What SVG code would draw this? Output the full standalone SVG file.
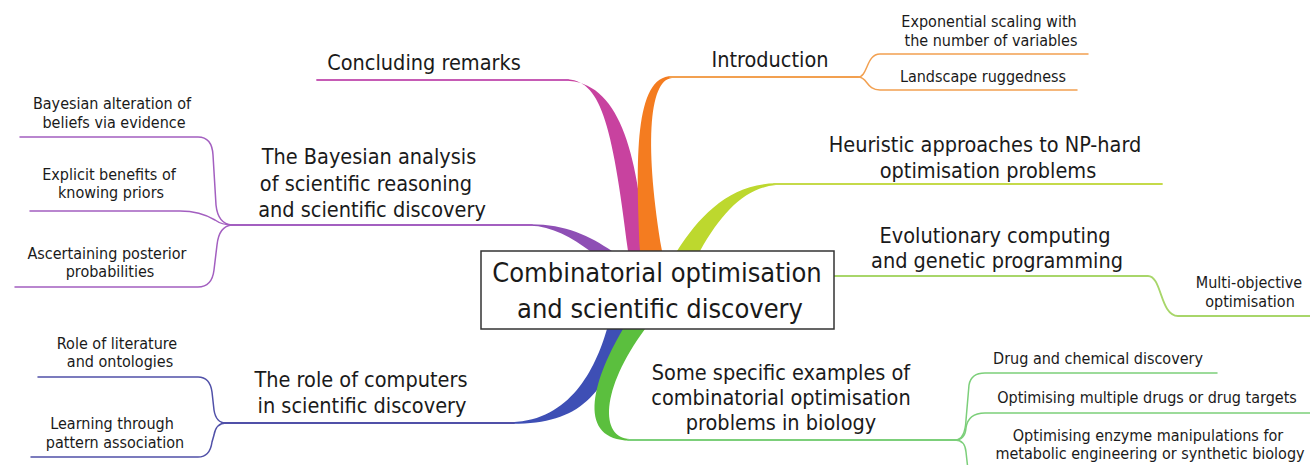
<svg xmlns="http://www.w3.org/2000/svg" width="1310" height="465" viewBox="0 0 1310 465">
  <style>
    text { font-family: "DejaVu Sans Condensed", "DejaVu Sans", sans-serif; font-stretch: semi-condensed; fill: #1a1a1a; text-anchor: middle; }
    .center { font-size: 27px; }
    .main { font-size: 21.5px; }
    .sub { font-size: 16px; }
    .box { fill: #ffffff; stroke: #333333; stroke-width: 1.5; }
    .ln { fill: none; stroke-width: 1.8; stroke-linecap: round; }
    .sl { fill: none; stroke-width: 1.5; stroke-linecap: round; }
    .magenta { stroke: #c65bb5; }
    .orange { stroke: #f2a050; }
    .lime { stroke: #c5da4a; }
    .evo { stroke: #a8d66a; }
    .green { stroke: #7ccf7a; }
    .purple { stroke: #a35fc0; }
    .blue { stroke: #5050a8; }
  </style>

  <rect width="1310" height="465" fill="#ffffff"/>

  <g id="connectors">
    <!-- tapered ribbons leaving the central box -->
    <path id="rib-purple" fill="#8e4fb5" d="M530,224.2 C565,224 590,236 612,251 L590,251 C572,238 552,226 530,225.8 Z"/>
    <path id="rib-magenta" fill="#c8429f" d="M565,79.2 C600,79.2 612,120 628,251 L645,251 C638,150 618,81 565,80.8 Z"/>
    <path id="rib-orange" fill="#f47c20" d="M640,251 C636,160 634,76 672,76 L672,78 C648,80 645,150 662,251 Z"/>
    <path id="rib-lime" fill="#bdd82e" d="M677,251 C700,215 730,184 776,183.3 L776,185 C745,188 722,212 700,251 Z"/>
    <path id="rib-blue" fill="#3e4fb5" d="M607,329 C595,370 570,420 512,422.2 L512,423.8 C580,424 605,395 626,329 Z"/>
    <path id="rib-green" fill="#5bbf3e" d="M623,329 C590,385 578,440 630,440.6 L630,439 C600,438 600,390 645,329 Z"/>

    <!-- main branch lines -->
    <path class="ln magenta" d="M317,80 L568,80"/>
    <path class="ln orange" d="M670,77 L858,77"/>
    <path class="ln lime" d="M774,184 L1162,184"/>
    <path class="ln evo" d="M834,276 L1148,276 C1162,276 1160,316 1178,316 L1310,316"/>
    <path class="ln purple" d="M232,225 L532,225"/>
    <path class="ln blue" d="M222,423 L514,423"/>
    <path class="ln green" d="M628,440 L955,440"/>

    <!-- Introduction sub-branches -->
    <path class="sl orange" d="M858,77 C868,77 866,54 880,54 L1088,54"/>
    <path class="sl orange" d="M858,77 C868,77 866,90 880,90 L1077,90"/>

    <!-- Bayesian sub-branches -->
    <path class="sl purple" d="M20,137 L198,137 Q212,137 213,155 L216,205 Q218,224 232,225"/>
    <path class="sl purple" d="M30,211 L180,211 Q200,211 215,220 Q222,225 232,225"/>
    <path class="sl purple" d="M15,287 L198,287 Q212,287 214,270 L217,245 Q219,226 232,225"/>

    <!-- computers sub-branches -->
    <path class="sl blue" d="M38,377 L198,377 Q210,377 212,392 L214,410 Q216,423 226,423"/>
    <path class="sl blue" d="M31,457 L198,457 Q210,457 212,442 L214,435 Q216,423 226,423"/>

    <!-- biology examples sub-branches -->
    <path class="sl green" d="M955,440 Q965,440 966,420 L969,385 Q971,373 985,373 L1217,373"/>
    <path class="sl green" d="M955,440 Q965,440 966,428 Q968,413 985,413 L1310,413"/>
    <path class="sl green" d="M955,440 Q965,440 966,452 L968,470"/>
  </g>

  <g id="node-center">
    <rect class="box" x="481" y="251" width="353" height="78"/>
    <text class="center" x="657" y="282">Combinatorial optimisation</text>
    <text class="center" x="660" y="318">and scientific discovery</text>
  </g>

  <g id="node-introduction">
    <text class="main" x="770" y="67">Introduction</text>
  </g>
  <g id="node-exponential">
    <text class="sub" x="989" y="27">Exponential scaling with</text>
    <text class="sub" x="991" y="46">the number of variables</text>
  </g>
  <g id="node-landscape">
    <text class="sub" x="983" y="82">Landscape ruggedness</text>
  </g>

  <g id="node-concluding">
    <text class="main" x="424" y="70">Concluding remarks</text>
  </g>

  <g id="node-heuristic">
    <text class="main" x="985" y="152">Heuristic approaches to NP-hard</text>
    <text class="main" x="988" y="178">optimisation problems</text>
  </g>

  <g id="node-evolutionary">
    <text class="main" x="995" y="243">Evolutionary computing</text>
    <text class="main" x="997" y="268">and genetic programming</text>
  </g>
  <g id="node-multiobjective">
    <text class="sub" x="1249" y="288">Multi-objective</text>
    <text class="sub" x="1250" y="307">optimisation</text>
  </g>

  <g id="node-biology">
    <text class="main" x="781" y="380">Some specific examples of</text>
    <text class="main" x="781" y="405">combinatorial optimisation</text>
    <text class="main" x="781" y="430">problems in biology</text>
  </g>
  <g id="node-drug">
    <text class="sub" x="1098" y="364">Drug and chemical discovery</text>
  </g>
  <g id="node-multidrug">
    <text class="sub" x="1147" y="403">Optimising multiple drugs or drug targets</text>
  </g>
  <g id="node-enzyme">
    <text class="sub" x="1148" y="441">Optimising enzyme manipulations for</text>
    <text class="sub" x="1150" y="459">metabolic engineering or synthetic biology</text>
  </g>

  <g id="node-bayesian">
    <text class="main" x="369" y="164">The Bayesian analysis</text>
    <text class="main" x="366" y="191">of scientific reasoning</text>
    <text class="main" x="372" y="217">and scientific discovery</text>
  </g>
  <g id="node-beliefs">
    <text class="sub" x="112" y="109">Bayesian alteration of</text>
    <text class="sub" x="114" y="128">beliefs via evidence</text>
  </g>
  <g id="node-priors">
    <text class="sub" x="109" y="180">Explicit benefits of</text>
    <text class="sub" x="111" y="198">knowing priors</text>
  </g>
  <g id="node-posterior">
    <text class="sub" x="107" y="259">Ascertaining posterior</text>
    <text class="sub" x="110" y="277">probabilities</text>
  </g>

  <g id="node-computers">
    <text class="main" x="361" y="387">The role of computers</text>
    <text class="main" x="362" y="413">in scientific discovery</text>
  </g>
  <g id="node-literature">
    <text class="sub" x="117" y="349">Role of literature</text>
    <text class="sub" x="120" y="367">and ontologies</text>
  </g>
  <g id="node-pattern">
    <text class="sub" x="112" y="429">Learning through</text>
    <text class="sub" x="115" y="448">pattern association</text>
  </g>
</svg>
